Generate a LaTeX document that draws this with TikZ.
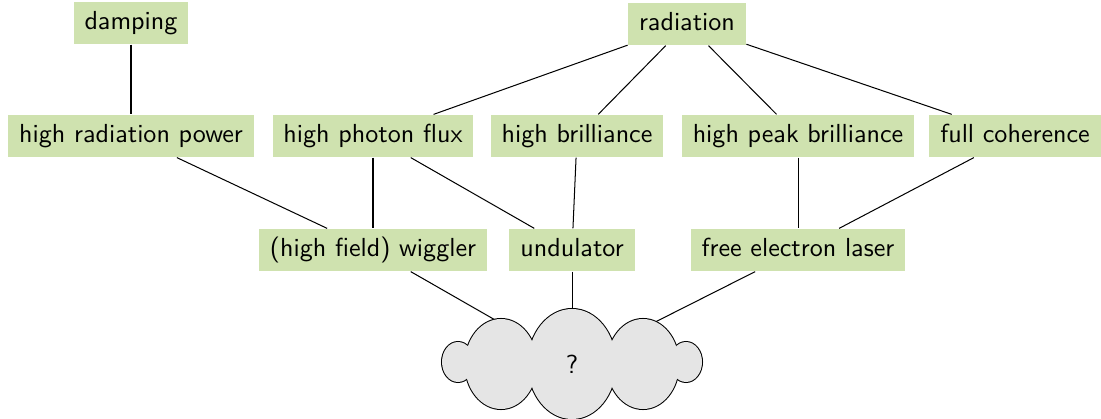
\documentclass[tikz,border=0pt]{standalone}
\definecolor{boxgreen}{RGB}{207,226,175}
\definecolor{cloudgray}{RGB}{229,229,229}
\begin{document}
\begin{tikzpicture}[x=0.393pt,y=-0.393pt, font=\sffamily\fontsize{10.25}{12}\selectfont,
  box/.style={fill=boxgreen, inner xsep=4.3pt, inner ysep=3.7pt, text height=7.1pt, text depth=2.1pt},
  link/.style={draw=black, line width=0.4pt}]
\useasboundingbox (0,0) rectangle (1101,419);
\node[box] (damp) at (131,23) {damping};
\node[box] (rad) at (687,24) {radiation};
\node[box] (hrp) at (131,136) {high radiation power};
\node[box] (hpf) at (373,136) {high photon flux};
\node[box] (hb) at (577,136) {high brilliance};
\node[box] (hpb) at (798,136) {high peak brilliance};
\node[box] (fc) at (1015,136) {full coherence};
\node[box] (wig) at (373,250) {(high field) wiggler};
\node[box] (und) at (572,250) {undulator};
\node[box] (fel) at (798,250) {free electron laser};
\coordinate (cloud) at (572,364);
\draw[link] (damp) -- (hrp);
\draw[link] (rad) -- (hpf);
\draw[link] (rad) -- (hb);
\draw[link] (rad) -- (hpb);
\draw[link] (rad) -- (fc);
\draw[link] (hrp) -- (wig);
\draw[link] (hpf) -- (wig);
\draw[link] (hpf) -- (und);
\draw[link] (hb) -- (und);
\draw[link] (hpb) -- (fel);
\draw[link] (fc) -- (fel);
\draw[link] (wig) -- (cloud);
\draw[link] (und) -- (cloud);
\draw[link] (fel) -- (cloud);
% cloud: outline pass then fill pass
\foreach \cx/\cy/\rx/\ry in {458/362/16/20, 501/364/36/45, 572/364/44/55, 643/364/36/45, 686/362/16/20}
  \draw[line width=0.8pt] (\cx,\cy) ellipse [x radius=\rx, y radius=\ry];
\foreach \cx/\cy/\rx/\ry in {458/362/16/20, 501/364/36/45, 572/364/44/55, 643/364/36/45, 686/362/16/20}
  \fill[cloudgray] (\cx,\cy) ellipse [x radius=\rx, y radius=\ry];
\node (q) at (cloud) {?};
\end{tikzpicture}
\end{document}
